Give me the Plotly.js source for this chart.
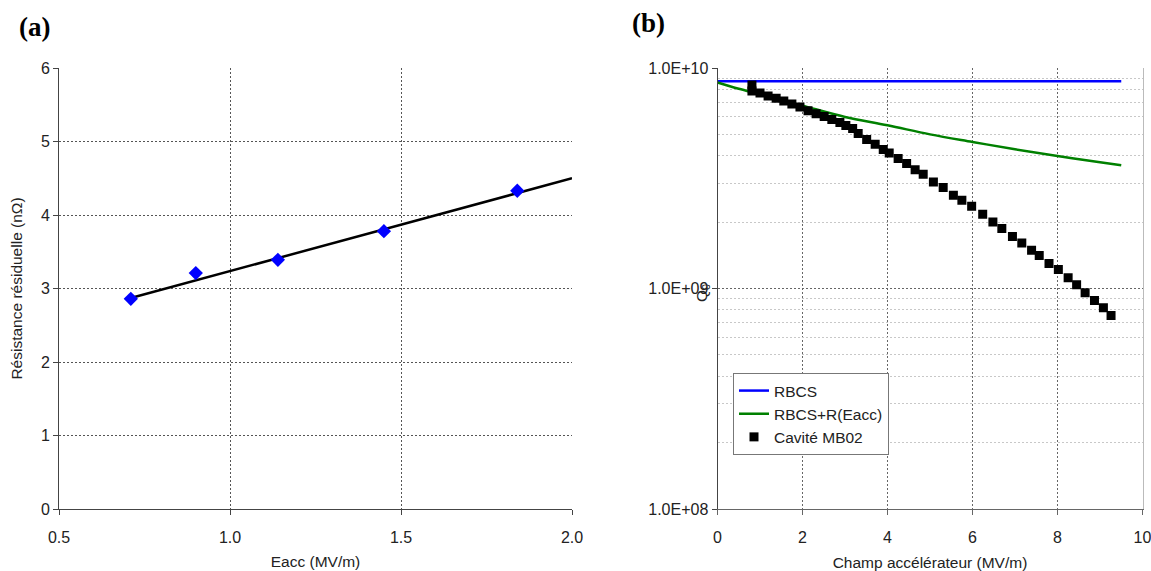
<!DOCTYPE html>
<html>
<head>
<meta charset="utf-8">
<script src="https://cdn.plot.ly/plotly-3.0.1.min.js"></script>
<style>
html,body{margin:0;padding:0;background:#fff;}
#chart{width:1151px;height:571px;}
</style>
</head>
<body>
<div id="chart"></div>
<script>
// ---- Panel (a): residual resistance vs Eacc ----
const eaccA = [0.71, 0.90, 1.14, 1.45, 1.84];
const rresA = [2.86, 3.21, 3.39, 3.78, 4.33];
const fitX = [0.71, 2.0];
const fitY = [2.87, 4.50];

// ---- Panel (b): Q0 vs accelerating field ----
const rbcsX = [0, 9.5];
const rbcsY = [8.7e9, 8.7e9];
const rbcsRX = [0, 0.5, 1, 1.5, 2, 3, 4, 5, 6, 7, 8, 9, 9.5];
const rbcsRY = [8.6e9, 8.05e9, 7.6e9, 7.15e9, 6.75e9, 6.0e9, 5.5e9, 5.0e9, 4.62e9, 4.28e9, 3.99e9, 3.74e9, 3.62e9];
const mb02X = [0.81, 0.81, 1.0, 1.19, 1.38, 1.56, 1.75, 1.94, 2.13, 2.32, 2.51, 2.69, 2.88, 3.02,
  3.18, 3.31, 3.51, 3.71, 3.90, 4.04, 4.25, 4.45, 4.65, 4.84, 5.08, 5.31, 5.55, 5.75, 5.98,
  6.24, 6.48, 6.69, 6.94, 7.16, 7.39, 7.57, 7.80, 8.02, 8.25, 8.45, 8.65, 8.87, 9.08, 9.26];
const mb02Y = [8.37e9, 7.86e9, 7.70e9, 7.46e9, 7.30e9, 7.08e9, 6.86e9, 6.65e9, 6.40e9, 6.20e9, 6.02e9, 5.84e9, 5.66e9, 5.48e9,
  5.32e9, 5.05e9, 4.74e9, 4.51e9, 4.27e9, 4.12e9, 3.89e9, 3.69e9, 3.46e9, 3.30e9, 3.04e9, 2.87e9, 2.65e9, 2.51e9, 2.36e9,
  2.17e9, 2.00e9, 1.87e9, 1.72e9, 1.61e9, 1.49e9, 1.41e9, 1.30e9, 1.22e9, 1.12e9, 1.04e9, 9.56e8, 8.82e8, 8.17e8, 7.54e8];
const qTickVals = [1e8, 1e9, 1e10];
const qTickText = ['1.0E+08', '1.0E+09', '1.0E+10'];
const qMinorVals = [2e8,3e8,4e8,5e8,6e8,7e8,8e8,9e8,2e9,3e9,4e9,5e9,6e9,7e9,8e9,9e9];

const font = 'Liberation Sans, Arial, sans-serif';
const tickFont = {family: font, size: 16, color: '#222'};
const titleFont = {family: font, size: 15.5, color: '#222'};
const gridDash = '2px,2px';

const traces = [
  {x: fitX, y: fitY, xaxis: 'x', yaxis: 'y', mode: 'lines', line: {color: '#000', width: 2.5}, showlegend: false},
  {x: eaccA, y: rresA, xaxis: 'x', yaxis: 'y', mode: 'markers',
   marker: {symbol: 'diamond', size: 11, color: '#0000ff'}, showlegend: false},
  {x: rbcsX, y: rbcsY, xaxis: 'x2', yaxis: 'y2', mode: 'lines', name: 'RBCS',
   line: {color: '#0000ff', width: 2.5}},
  {x: rbcsRX, y: rbcsRY, xaxis: 'x2', yaxis: 'y2', mode: 'lines', name: 'RBCS+R(Eacc)',
   line: {color: '#008000', width: 2.5, shape: 'spline'}},
  {x: mb02X, y: mb02Y, xaxis: 'x2', yaxis: 'y2', mode: 'markers', name: 'Cavité MB02',
   marker: {symbol: 'square', size: 9, color: '#000'}}
];

const layout = {
  width: 1151, height: 571,
  margin: {l: 0, r: 0, t: 0, b: 0},
  paper_bgcolor: '#fff', plot_bgcolor: '#fff',
  font: {family: font, size: 16, color: '#222'},
  xaxis: {
    domain: [59/1151, 572/1151], anchor: 'y', range: [0.5, 2.0], dtick: 0.5, tick0: 0.5, tickformat: '.1f',
    showline: true, linecolor: '#444', linewidth: 1, ticks: 'outside', ticklen: 5, tickcolor: '#444',
    showgrid: true, gridcolor: '#555', griddash: gridDash, gridwidth: 1, zeroline: false,
    tickfont: tickFont, ticklabelstandoff: 9, automargin: false, ticklabeloverflow: 'allow',
    title: {text: 'Eacc (MV/m)', font: titleFont, standoff: 10}
  },
  yaxis: {
    domain: [1-509/571, 1-68/571], anchor: 'x', range: [0, 6], dtick: 1,
    showline: true, linecolor: '#444', linewidth: 1, ticks: 'outside', ticklen: 5, tickcolor: '#444',
    showgrid: true, gridcolor: '#555', griddash: gridDash, gridwidth: 1, zeroline: false,
    tickfont: tickFont, automargin: false, ticklabeloverflow: 'allow',
    title: {text: 'Résistance résiduelle (nΩ)', font: titleFont, standoff: 14}
  },
  xaxis2: {
    domain: [717.5/1151, 1142.5/1151], anchor: 'y2', range: [0, 10], dtick: 2,
    showline: true, linecolor: '#666', linewidth: 1, ticks: 'outside', ticklen: 5, tickcolor: '#666',
    showgrid: true, gridcolor: '#666', griddash: gridDash, gridwidth: 1, zeroline: false,
    tickfont: tickFont, ticklabelstandoff: 9, automargin: false, ticklabeloverflow: 'allow',
    title: {text: 'Champ accélérateur (MV/m)', font: titleFont, standoff: 11}
  },
  yaxis2: {
    domain: [1-509/571, 1-68/571], anchor: 'x2', type: 'log', range: [8, 10],
    tickmode: 'array', tickvals: qTickVals, ticktext: qTickText,
    showline: true, linecolor: '#444', linewidth: 1, ticks: 'outside', ticklen: 5, tickcolor: '#444',
    showgrid: true, gridcolor: '#666', griddash: gridDash, gridwidth: 1, zeroline: false,
    tickfont: tickFont, automargin: false, ticklabeloverflow: 'allow'
  },
  yaxis3: {
    overlaying: 'y2', anchor: 'x2', side: 'right', type: 'log', range: [8, 10],
    tickmode: 'array', tickvals: qMinorVals, showticklabels: false, ticks: '',
    showline: true, linecolor: '#bbb', linewidth: 1, automargin: false,
    showgrid: true, gridcolor: '#c8c8c8', griddash: gridDash, gridwidth: 1, zeroline: false
  },
  showlegend: true,
  legend: {
    x: 733/1151, y: 1-373/571, xanchor: 'left', yanchor: 'top',
    bgcolor: '#fff', bordercolor: '#777', borderwidth: 1,
    font: {family: font, size: 15.5, color: '#222'},
    tracegroupgap: 0, itemwidth: 30
  },
  annotations: [
    {text: '<b>(a)</b>', xref: 'paper', yref: 'paper', x: 34/1151, y: 1-27/571, xanchor: 'center', yanchor: 'middle', showarrow: false,
     font: {family: 'Liberation Serif, Times New Roman, serif', size: 27, color: '#000'}},
    {text: '<b>(b)</b>', xref: 'paper', yref: 'paper', x: 648/1151, y: 1-23/571, xanchor: 'center', yanchor: 'middle', showarrow: false,
     font: {family: 'Liberation Serif, Times New Roman, serif', size: 27, color: '#000'}},
    {text: 'Q<sub>0</sub>', xref: 'paper', yref: 'paper', x: 702/1151, y: 1-293/571, xanchor: 'center', yanchor: 'middle',
     textangle: -90, showarrow: false, font: titleFont}
  ]
};

// minor-grid axis needs a trace to be drawn
traces.push({x: [0], y: [1e9], xaxis: 'x2', yaxis: 'y3', mode: 'markers', marker: {opacity: 0}, showlegend: false, hoverinfo: 'skip'});

Plotly.newPlot('chart', traces, layout, {displayModeBar: false, staticPlot: true});
</script>
</body>
</html>
